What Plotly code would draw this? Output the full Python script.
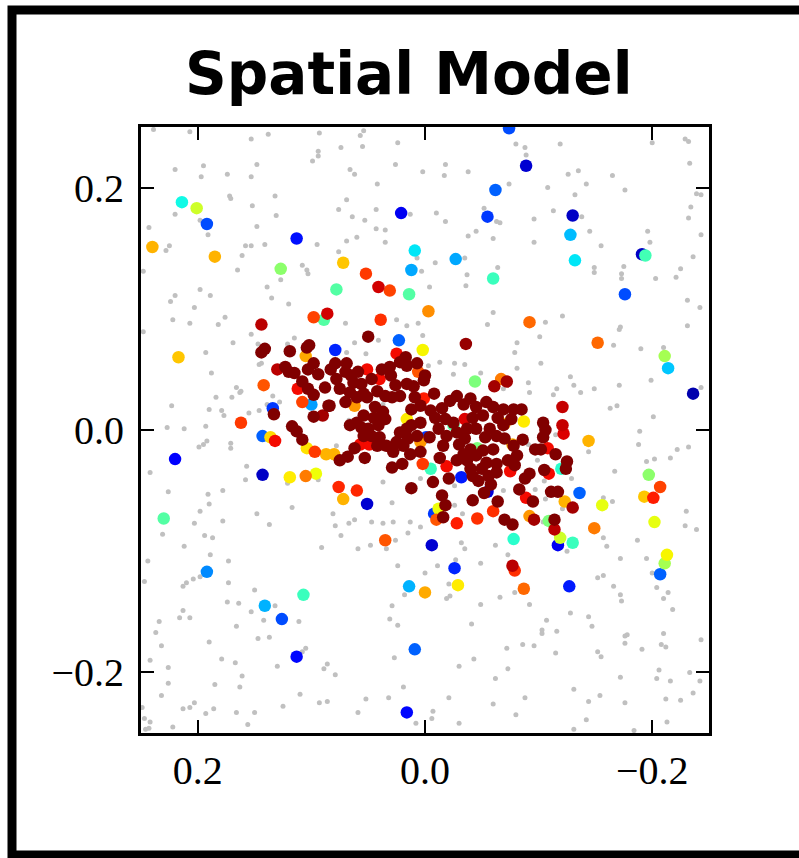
import plotly.graph_objects as go

# background (gray) sample locations
gray_xy = [
    (0.239,0.248),(0.207,0.246),(0.153,0.240),(0.138,0.244),(0.093,0.245),(0.094,0.230),(0.099,0.222),(0.094,0.226),(0.220,0.215),(0.195,0.218),(0.197,0.209),(0.174,0.211),(0.148,0.219),(0.153,0.209),(0.172,0.193),(0.171,0.191),(0.132,0.193),(0.152,0.185),(0.220,0.178),(0.198,0.173),(0.131,0.177),(0.243,0.167),(0.191,0.161),(0.148,0.168),(0.225,0.152),(0.228,0.148),(0.158,0.152),(0.153,0.152),(0.141,0.153),(0.161,0.144),(0.095,0.153),(0.165,0.132),(0.108,0.136),(0.104,0.132),(0.103,0.129),(0.127,0.124),(0.248,0.131),(0.139,0.118),(0.198,0.116),(0.220,0.111),(0.224,0.106),(0.189,0.111),(0.135,0.109),(0.120,0.104),(0.203,0.101),(0.222,0.091),(0.207,0.088),(0.182,0.087),(0.176,0.093),
    (0.054,0.247),(0.057,0.243),(0.024,0.237),(0.074,0.233),(0.055,0.234),(-0.080,0.236),(0.026,0.219),(-0.018,0.219),(0.066,0.215),(0.062,0.211),(0.002,0.213),(-0.017,0.210),(-0.038,0.213),(0.042,0.203),(-0.074,0.203),(0.069,0.190),(0.076,0.182),(0.043,0.182),(0.013,0.178),(-0.010,0.179),(0.064,0.176),(0.053,0.173),(-0.018,0.172),(-0.052,0.183),(-0.063,0.172),(-0.066,0.171),(0.043,0.166),(0.035,0.165),(0.060,0.159),(0.069,0.156),(0.035,0.155),(-0.038,0.160),(-0.045,0.164),(-0.060,0.158),(0.076,0.147),(0.007,0.142),(-0.035,0.142),(-0.009,0.138),(0.003,0.131),(-0.037,0.128),(-0.064,0.134),(-0.036,0.119),(-0.004,0.118),(-0.060,0.097),(-0.055,0.087),(0.070,0.088),(0.025,0.091),(0.016,0.086),(0.006,0.088),
    (-0.088,0.233),(-0.089,0.227),(-0.119,0.236),(-0.200,0.237),(-0.229,0.240),(-0.232,0.238),(-0.233,0.220),(-0.126,0.211),(-0.135,0.214),(-0.165,0.210),(-0.108,0.200),(-0.142,0.203),(-0.132,0.194),(-0.176,0.198),(-0.239,0.195),(-0.243,0.194),(-0.234,0.184),(-0.113,0.181),(-0.096,0.174),(-0.138,0.176),(-0.232,0.175),(-0.145,0.164),(-0.196,0.164),(-0.243,0.161),(-0.096,0.155),(-0.155,0.152),(-0.198,0.155),(-0.236,0.143),(-0.149,0.134),(-0.149,0.130),(-0.175,0.135),(-0.173,0.129),(-0.173,0.125),(-0.203,0.125),(-0.221,0.126),(-0.225,0.133),(-0.231,0.107),(-0.242,0.101),(-0.106,0.089),(-0.121,0.094),(-0.172,0.085),(-0.231,0.086),
    (0.248,0.081),(0.169,0.072),(0.153,0.079),(0.147,0.071),(0.115,0.076),(0.121,0.071),(0.193,0.064),(0.146,0.054),(0.144,0.055),(0.188,0.047),(0.166,0.035),(0.163,0.031),(0.162,0.032),(0.170,0.027),(0.184,0.027),(0.223,0.020),(0.190,0.017),(0.179,0.016),(0.177,0.012),(0.155,0.014),(0.146,0.016),(0.139,0.021),(0.128,0.023),(0.134,0.028),(0.227,0.002),(0.212,0.001),(0.193,0.003),(0.199,-0.014),(0.195,-0.012),(0.192,-0.009),(0.171,-0.011),(0.171,-0.015),(0.157,-0.030),(0.158,-0.041),(0.242,-0.035),(0.226,-0.051),(0.191,-0.053),(0.190,-0.061),(0.198,-0.067),(0.178,-0.050),(0.148,-0.069),(0.203,-0.077),(0.178,-0.075),(0.137,-0.078),(0.117,-0.064),(0.121,-0.044),(0.094,-0.041),
    (0.062,0.072),(0.041,0.074),(0.002,0.078),(0.069,0.064),(0.052,0.063),(-0.013,0.056),(-0.026,0.055),(-0.035,0.054),(-0.025,0.046),(-0.049,0.047),(-0.003,0.053),(-0.081,0.072),(-0.079,0.064),(-0.081,0.051),(-0.069,0.034),(0.078,-0.013),(0.026,-0.021),(0.037,-0.043),(0.029,-0.060),(0.004,-0.040),(-0.026,-0.046),(0.081,-0.069),(0.079,-0.079),(0.067,-0.077),(0.062,-0.074),(0.047,-0.076),(0.037,-0.077),(0.028,-0.076),(0.013,-0.076),(0.004,-0.080),(-0.026,-0.062),(-0.033,-0.069),(-0.069,-0.050),(0.037,0.021),(0.067,0.008),
    (-0.101,0.077),(-0.166,0.070),(-0.190,0.067),(-0.210,0.068),(-0.171,0.083),(-0.102,0.055),(-0.091,0.039),(-0.092,0.031),(-0.113,0.029),(-0.116,0.034),(-0.128,0.044),(-0.131,0.037),(-0.137,0.031),(-0.149,0.034),(-0.171,0.037),(-0.199,0.041),(-0.243,0.035),(-0.163,0.018),(-0.169,0.020),(-0.201,0.011),(-0.189,-0.001),(-0.188,-0.012),(-0.222,-0.016),(-0.232,-0.014),(-0.216,-0.023),(-0.202,-0.024),(-0.195,-0.026),(-0.144,-0.018),(-0.167,-0.034),(-0.091,-0.012),(-0.099,-0.025),(-0.115,-0.004),(-0.129,-0.040),(-0.105,-0.042),(-0.097,-0.049),(-0.106,-0.057),(-0.121,-0.065),(-0.157,-0.056),(-0.165,-0.059),(-0.230,-0.067),(-0.229,-0.079),(-0.239,-0.082),(-0.104,-0.076),
    (0.231,-0.086),(0.194,-0.087),(0.187,-0.089),(0.212,-0.096),(0.189,-0.103),(0.244,-0.108),(0.173,-0.108),(0.091,-0.097),(0.247,-0.125),(0.213,-0.129),(0.210,-0.126),(0.204,-0.123),(0.198,-0.121),(0.173,-0.126),(0.150,-0.132),(0.174,-0.142),(0.164,-0.143),(0.153,-0.150),(0.132,-0.145),(0.142,-0.157),(0.111,-0.158),(0.213,-0.149),(0.216,-0.155),(0.207,-0.155),(0.234,-0.158),(0.237,-0.167),(0.232,-0.178),(0.166,-0.162),(0.147,-0.172),(0.137,-0.171),(0.190,-0.175),(0.105,-0.180),(0.108,-0.183),(0.242,-0.190),(0.226,-0.196),(0.179,-0.189),(0.167,-0.192),(0.161,-0.203),(0.130,-0.195),(0.086,-0.193),(0.089,-0.197),(0.226,-0.209),(0.185,-0.210),(0.163,-0.212),(0.232,-0.219),(0.110,-0.218),(0.213,-0.230),(0.207,-0.229),(0.203,-0.225),(0.186,-0.230),(0.193,-0.234),(0.166,-0.233),(0.150,-0.233),(0.125,-0.228),(0.093,-0.225),(0.086,-0.224),(0.249,-0.229),(0.247,-0.238),(0.242,-0.241),(0.243,-0.246),(0.246,-0.247),(0.222,-0.245),(0.156,-0.243),
    (0.074,-0.087),(0.059,-0.098),(0.048,-0.095),(0.034,-0.098),(0.026,-0.091),(0.015,-0.085),(-0.032,-0.093),(-0.035,-0.098),(-0.062,-0.095),(-0.073,-0.103),(0.024,-0.112),(0.000,-0.118),(-0.011,-0.112),(-0.027,-0.107),(-0.049,-0.110),(-0.021,-0.127),(0.018,-0.136),(-0.019,-0.139),(-0.022,-0.137),(-0.066,-0.138),(-0.079,-0.134),(0.029,-0.145),(-0.049,-0.144),(0.031,-0.156),(0.024,-0.161),(-0.041,-0.160),(-0.072,-0.180),(0.027,-0.188),(-0.043,-0.189),(-0.030,-0.195),(-0.073,-0.197),(-0.062,-0.205),(0.079,-0.202),(0.019,-0.212),(0.052,-0.222),(0.032,-0.221),(-0.021,-0.221),(-0.060,-0.226),(0.059,-0.233),(-0.007,-0.232),(-0.006,-0.238),(0.008,-0.242),(-0.030,-0.242),(-0.080,-0.235),
    (-0.157,-0.089),(-0.187,-0.091),(-0.160,-0.096),(-0.125,-0.100),(-0.172,-0.106),(-0.195,-0.106),(-0.152,-0.122),(-0.157,-0.120),(-0.200,-0.118),(-0.166,-0.129),(-0.172,-0.136),(-0.173,-0.141),(-0.204,-0.130),(-0.214,-0.134),(-0.210,-0.139),(-0.218,-0.148),(-0.092,-0.144),(-0.128,-0.151),(-0.144,-0.154),(-0.107,-0.157),(-0.147,-0.162),(-0.103,-0.165),(-0.103,-0.168),(-0.116,-0.166),(-0.176,-0.170),(-0.178,-0.169),(-0.210,-0.168),(-0.243,-0.173),(-0.086,-0.177),(-0.096,-0.178),(-0.115,-0.184),(-0.152,-0.183),(-0.155,-0.187),(-0.176,-0.176),(-0.191,-0.181),(-0.208,-0.177),(-0.212,-0.179),(-0.206,-0.198),(-0.204,-0.205),(-0.216,-0.207),(-0.233,-0.200),(-0.242,-0.207),(-0.236,-0.217),(-0.172,-0.204),(-0.131,-0.214),(-0.154,-0.219),(-0.144,-0.224),(-0.176,-0.225),(-0.212,-0.222),(-0.225,-0.223),(-0.088,-0.221),(-0.142,-0.239),(-0.131,-0.247),(-0.213,-0.241),(-0.184,-0.248),
]

# coloured samples: (x, y, value on 0..1 jet scale)
colored_xyc = [
    (0.214,0.188,0.37),(0.201,0.183,0.60),(0.192,0.170,0.20),(0.240,0.151,0.72),(0.185,0.143,0.72),(0.113,0.158,0.14),(0.127,0.133,0.52),(0.098,0.093,0.84),(0.089,0.091,0.45),(0.086,0.096,0.93),(0.144,0.087,0.95),
    (-0.074,0.249,0.20),(-0.062,0.198,0.22),(-0.055,0.176,0.18),(0.021,0.179,0.10),(0.009,0.148,0.35),(0.012,0.132,0.29),(-0.027,0.141,0.29),(-0.060,0.125,0.42),(0.072,0.138,0.70),(0.052,0.129,0.85),(0.041,0.118,0.93),(0.031,0.115,0.84),(0.078,0.116,0.45),(0.014,0.112,0.45),(-0.003,0.098,0.76),(0.039,0.091,0.86),
    (-0.089,0.218,0.07),(-0.130,0.177,0.06),(-0.128,0.161,0.31),(-0.132,0.140,0.35),(-0.191,0.145,0.06),(-0.194,0.144,0.43),(-0.176,0.112,0.20),(-0.092,0.089,0.80),
    (0.217,0.060,0.70),(0.144,0.064,1),(0.141,0.067,1),(0.119,0.065,1),(0.104,0.068,1),(0.102,0.070,1),(0.105,0.061,0.73),(0.130,0.050,0.95),(0.123,0.052,1),(0.120,0.048,1),(0.115,0.047,1),(0.103,0.050,1),(0.098,0.055,1),(0.094,0.046,1),(0.112,0.034,0.90),(0.108,0.040,1),(0.103,0.034,1),(0.098,0.029,1),(0.142,0.037,0.82),(0.134,0.018,0.18),(0.133,0.013,1),(0.108,0.023,0.84),(0.100,0.021,0.28),(0.098,0.011,1),(0.090,0.012,0.97),(0.085,0.020,1),(0.162,0.006,0.85),(0.117,0.003,1),(0.113,-0.001,1),(0.108,-0.008,1),(0.143,-0.005,0.22),(0.136,-0.006,0.68),(0.132,-0.009,0.90),(0.104,-0.015,0.67),(0.097,-0.018,0.85),(0.087,-0.020,0.72),(0.220,-0.024,0.12),(0.143,-0.037,0.06),(0.119,-0.039,0.66),(0.105,-0.038,0.78),(0.096,-0.036,0.64),(0.230,-0.073,0.45),
    (0.050,0.077,1),(0.017,0.060,1),(0.022,0.056,1),(0.016,0.053,1),(0.031,0.052,1),(0.007,0.055,1),(0.000,0.045,1),(0.001,0.041,1),
    (-0.036,0.071,0.98),(-0.072,0.040,0.97),(-0.061,0.036,0.97),
    (0.079,0.055,1),(0.069,0.055,1),(0.070,0.048,1),(0.078,0.042,1),(0.059,0.048,1),(0.047,0.042,1),(0.056,0.038,1),(0.063,0.039,1),(0.075,0.034,1),(0.066,0.031,1),(0.054,0.030,1),(0.042,0.032,1),(0.035,0.028,1),(0.029,0.027,1),(0.022,0.028,1),(0.016,0.038,1),(0.026,0.037,1),(0.070,0.023,1),(0.060,0.027,1),(0.051,0.027,1),(0.084,0.020,1),(0.044,0.019,1),(0.037,0.015,1),(0.054,0.012,1),(0.045,0.010,1),(0.060,0.006,1),(0.066,0.004,1),(0.056,0.002,1),(0.050,0.001,1),(0.041,0.004,1),(0.035,0.009,1),(0.040,-0.006,1),(0.047,-0.005,1),(0.054,-0.005,1),(0.042,-0.013,1),(0.034,-0.013,1),(0.025,-0.010,1),(0.022,-0.002,1),(0.016,0.001,1),(0.012,0.004,1),(0.004,0.006,1),(0.007,-0.005,1),(0.015,-0.007,1),(0.019,-0.013,1),(0.013,-0.020,1),(0.004,-0.018,1),(0.004,0.020,1),(0.009,0.027,1),(0.012,0.017,1),(-0.004,-0.006,1),(-0.009,0.010,1),(-0.012,0.001,1),(-0.018,0.009,1),(-0.025,0.006,1),(-0.028,-0.002,1),(-0.019,-0.005,1),(-0.016,-0.013,1),(-0.013,-0.023,1),(-0.022,0.024,1),(-0.028,0.028,1),(-0.034,0.021,1),(-0.040,0.026,1),(-0.045,0.019,1),(-0.054,0.023,1),(-0.051,0.012,1),(-0.060,0.019,1),(-0.064,0.010,1),(-0.069,0.017,1),(-0.078,0.017,1),(-0.076,0.009,1),(-0.069,0.004,1),(-0.063,-0.005,1),(-0.057,0.001,1),(-0.053,-0.006,1),(-0.045,0.001,1),(-0.037,0.001,1),(-0.035,-0.007,1),(-0.040,-0.016,1),(-0.034,-0.020,1),(-0.028,-0.025,1),(-0.037,-0.025,1),(-0.045,-0.021,1),(-0.051,-0.017,1),(-0.060,-0.016,1),(-0.054,-0.027,1),(-0.063,-0.028,1),(-0.050,-0.032,1),(-0.042,-0.038,1),(-0.047,-0.042,1),(-0.040,-0.032,1),(-0.035,0.009,0.92),(-0.042,0.010,1),(-0.070,-0.007,1),(-0.078,-0.013,1),(-0.081,-0.021,1),(-0.073,-0.025,1),(-0.007,-0.043,1),(-0.021,-0.040,1),(0.012,-0.048,1),(-0.015,-0.054,1),(-0.018,-0.062,1),(-0.016,-0.072,1),(-0.042,-0.058,1),(-0.052,-0.052,1),(-0.064,-0.059,1),(-0.070,-0.074,1),(-0.077,-0.078,1),(0.075,-0.025,1),(0.053,-0.023,1),(0.029,-0.031,1),(-0.056,-0.038,1),(-0.063,-0.035,1),(-0.079,-0.029,1),
    (0.030,0.045,1),(0.038,0.050,1),(0.010,0.036,1),(-0.008,0.030,1),(-0.015,0.018,1),(0.028,-0.018,1),(0.020,-0.028,1),(0.062,-0.015,1),(0.068,-0.022,1),(-0.005,0.016,1),(-0.086,-0.008,1),(-0.088,-0.040,1),(-0.030,-0.012,1),(-0.058,-0.045,1),(0.088,0.035,1),(0.083,0.050,1),(0.065,0.045,1),
    (0.040,0.042,0.90),(0.051,0.050,0.90),(0.001,0.026,0.88),(0.057,-0.012,0.90),(0.049,-0.012,0.90),(-0.019,-0.030,0.90),(-0.075,-0.034,0.90),(0.025,0.063,0.90),(0.006,0.048,0.82),(-0.067,0.042,0.78),(-0.044,0.040,0.50),(0.002,0.066,0.65),(0.023,0.074,0.22),(0.079,0.066,0.16),(0.016,0.009,0.66),(-0.070,0.005,0.72),(-0.077,-0.012,0.72),(-0.046,-0.015,0.50),(-0.025,0.004,0.45),(-0.001,-0.006,0.18),(0.004,-0.010,0.75),(0.062,0.020,0.75),(0.080,-0.020,0.72),(-0.005,-0.032,0.42),(0.002,-0.028,0.85),(-0.032,-0.039,0.15),(0.076,-0.047,0.87),(0.060,-0.050,0.87),(0.072,-0.057,0.72),(0.051,-0.061,0.07),(-0.055,-0.051,0.08),(-0.060,-0.067,0.86),(-0.046,-0.073,0.86),(-0.028,-0.077,0.88),(-0.008,-0.069,0.18),(-0.012,-0.065,0.64),(-0.010,-0.074,0.82),
    (-0.152,0.072,0.80),(-0.211,0.061,0.55),(-0.214,0.051,0.32),(-0.236,0.030,0.04),(-0.121,0.019,0.94),(-0.085,0.017,1),(-0.087,0.007,0.66),(-0.104,0.006,1),(-0.106,0.000,1),(-0.104,-0.006,1),(-0.121,0.004,0.94),(-0.122,-0.003,0.92),(-0.144,-0.009,0.72),(-0.097,-0.016,1),(-0.102,-0.016,1),(-0.108,-0.015,0.90),(-0.115,-0.020,1),(-0.092,-0.036,1),(-0.105,-0.033,1),(-0.109,-0.036,0.90),(-0.120,-0.032,0.40),(-0.124,-0.032,1),(-0.125,-0.026,1),(-0.136,-0.052,0.22),(-0.111,-0.051,1),(-0.117,-0.051,1),(-0.083,-0.049,1),(-0.095,-0.059,1),(-0.089,-0.056,0.90),(-0.123,-0.059,0.72),(-0.130,-0.064,0.97),(-0.092,-0.071,0.75),(-0.096,-0.074,0.97),(-0.109,-0.075,0.50),(-0.114,-0.074,1),(-0.114,-0.082,0.95),(-0.156,-0.062,0.63),(-0.197,-0.037,0.52),(-0.207,-0.047,0.84),(-0.193,-0.055,0.70),(-0.201,-0.056,0.88),(-0.202,-0.076,0.63),(-0.149,-0.081,0.78),
    (0.192,-0.117,0.26),(0.141,-0.145,0.30),(0.126,-0.156,0.20),(0.107,-0.136,0.42),(0.113,-0.187,0.13),
    (0.035,-0.091,0.82),(-0.006,-0.095,0.07),(-0.026,-0.114,0.16),(0.014,-0.129,0.30),(0.000,-0.134,0.73),(-0.029,-0.128,0.66),(0.009,-0.181,0.22),(0.016,-0.233,0.13),(-0.078,-0.090,0.40),(-0.077,-0.112,0.95),(-0.079,-0.116,0.86),(-0.087,-0.131,0.80),
    (-0.119,-0.089,0.60),(-0.117,-0.095,0.10),(-0.130,-0.093,0.42),(-0.127,-0.129,0.15),(-0.213,-0.103,0.65),(-0.211,-0.110,0.55),(-0.207,-0.119,0.22),
]

tick_vals = [0.2, 0.0, -0.2]
tick_text = ["0.2", "0.0", "\u22120.2"]
title_text = "Spatial Model"

# matplotlib "jet" colormap
jet = [[0, 'rgb(0,0,128)'], [0.11, 'rgb(0,0,255)'], [0.125, 'rgb(0,0,255)'],
       [0.34, 'rgb(0,219,255)'], [0.35, 'rgb(0,230,247)'], [0.375, 'rgb(21,255,226)'],
       [0.64, 'rgb(239,255,8)'], [0.65, 'rgb(247,246,0)'], [0.66, 'rgb(255,236,0)'],
       [0.89, 'rgb(255,19,0)'], [0.91, 'rgb(232,0,0)'], [1, 'rgb(128,0,0)']]

gx = [p[0] for p in gray_xy]
gy = [p[1] for p in gray_xy]
srt = sorted(colored_xyc, key=lambda p: p[2])
cx = [p[0] for p in srt]
cy = [p[1] for p in srt]
cc = [p[2] for p in srt]

fig = go.Figure()
fig.add_trace(go.Scatter(x=gx, y=gy, mode="markers", hoverinfo="skip",
                         marker=dict(size=5, color="#c0c0c0", line=dict(width=0))))
fig.add_trace(go.Scatter(x=cx, y=cy, mode="markers",
                         marker=dict(size=12.5, color=cc, colorscale=jet, cmin=0, cmax=1,
                                     line=dict(width=0), showscale=False)))

W, H = 799, 858
L, R, T, B = 141, 90, 127, 125
pw, ph = W - L - R, H - T - B

def px_to_paper_x(px):
    return (px - L) / pw

def px_to_paper_y(py):
    return (H - B - py) / ph

axis_common = dict(
    showgrid=False, zeroline=False,
    showline=True, linecolor="black", linewidth=3, mirror="ticks",
    ticks="inside", ticklen=13, tickwidth=1.5, tickcolor="black",
    tickvals=tick_vals, ticktext=tick_text,
    tickfont=dict(family="Liberation Serif", size=40, color="black"),
)

fig.update_layout(
    width=W, height=H,
    margin=dict(l=L, r=R, t=T, b=B, pad=0),
    paper_bgcolor="white", plot_bgcolor="white",
    showlegend=False,
    xaxis=dict(axis_common, range=[0.25, -0.25], ticklabelstandoff=0),
    yaxis=dict(axis_common, range=[-0.25, 0.25], ticklabelstandoff=6),
    annotations=[dict(
        text="<b>" + title_text + "</b>", x=px_to_paper_x(409), y=px_to_paper_y(74),
        xref="paper", yref="paper", xanchor="center", yanchor="middle", showarrow=False,
        font=dict(family="DejaVu Sans", size=58, color="black"))],
    shapes=[dict(type="rect", xref="paper", yref="paper",
                 x0=px_to_paper_x(12), x1=px_to_paper_x(840),
                 y0=px_to_paper_y(855), y1=px_to_paper_y(10),
                 line=dict(color="black", width=9), fillcolor="rgba(0,0,0,0)", layer="above")],
)

fig.write_html("out.html")
